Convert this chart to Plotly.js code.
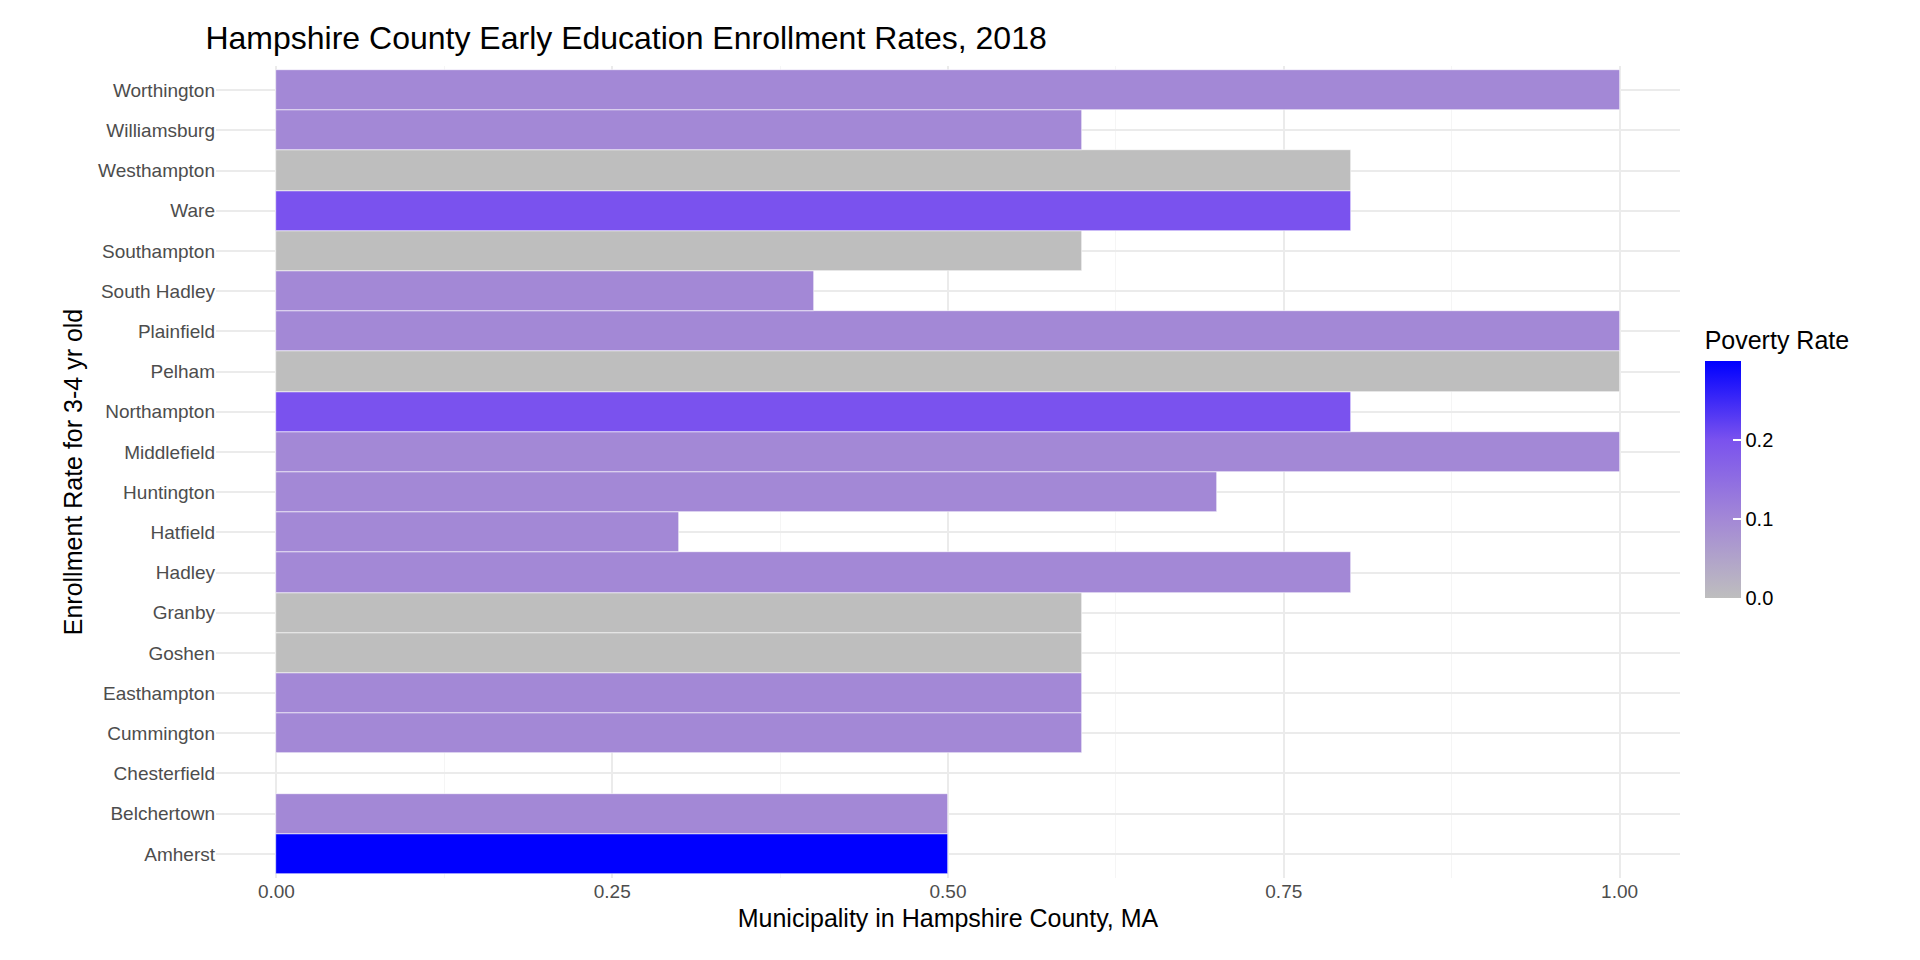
<!DOCTYPE html>
<html>
<head>
<meta charset="utf-8">
<script src="https://cdn.plot.ly/plotly-3.0.1.min.js"></script>
<style>body{margin:0;background:#fff}#graph{width:1920px;height:960px}</style>
</head>
<body>
<div id="graph"></div>
<script>
var towns = ["Amherst", "Belchertown", "Chesterfield", "Cummington", "Easthampton", "Goshen", "Granby",
    "Hadley", "Hatfield", "Huntington", "Middlefield", "Northampton", "Pelham", "Plainfield",
    "South Hadley", "Southampton", "Ware", "Westhampton", "Williamsburg", "Worthington"];
var enrollment = [0.5, 0.5, null, 0.6, 0.6, 0.6, 0.6, 0.8, 0.3, 0.7, 1.0, 0.8, 1.0, 1.0, 0.4, 0.6, 0.8, 0.8, 0.6, 1.0];
var poverty = [0.3, 0.1, null, 0.1, 0.1, 0, 0, 0.1, 0.1, 0.1, 0.1, 0.2, 0, 0.1, 0.1, 0, 0.2, 0, 0.1, 0.1];

var trace = {
    type: 'bar',
    orientation: 'h',
    y: towns,
    x: enrollment,
    marker: {
        color: poverty,
        cmin: 0,
        cmax: 0.3,
        colorscale: [[0, '#BEBEBE'], [0.333, '#A388D6'], [0.667, '#7A52EE'], [1, '#0000FF']],
        line: {color: 'white', width: 0.6},
        showscale: true,
        colorbar: {
            title: {text: 'Poverty Rate', side: 'top', font: {size: 25, color: '#000'}},
            tickvals: [0, 0.1, 0.2],
            ticktext: ['0.0', '0.1', '0.2'],
            tickfont: {size: 20, color: '#000'},
            ticks: 'inside', ticklen: 8, tickcolor: 'white', tickwidth: 1.5,
            thickness: 36, len: 290, lenmode: 'pixels',
            x: 1.01, xanchor: 'left', y: 0.333, yanchor: 'bottom',
            outlinewidth: 0
        }
    },
    hoverinfo: 'x+y'
};

var layout = {
    paper_bgcolor: 'white',
    plot_bgcolor: 'white',
    font: {family: 'Arial, sans-serif', color: '#4D4D4D'},
    bargap: 0,
    showlegend: false,
    margin: {l: 216, r: 240, t: 66, b: 82},
    title: {text: 'Hampshire County Early Education Enrollment Rates, 2018', x: 0.107, xanchor: 'left', y: 0.972,
        font: {size: 32, color: '#000'}},
    xaxis: {
        range: [-0.045, 1.045],
        tickvals: [0, 0.25, 0.5, 0.75, 1],
        ticktext: ['0.00', '0.25', '0.50', '0.75', '1.00'],
        tickfont: {size: 19, color: '#4D4D4D'},
        gridcolor: '#EBEBEB', gridwidth: 1.5,
        minor: {tickvals: [0.125, 0.375, 0.625, 0.875], gridcolor: '#F5F5F5', gridwidth: 1},
        zeroline: false,
        title: {text: 'Municipality in Hampshire County, MA', font: {size: 25, color: '#000'}, standoff: 8}
    },
    yaxis: {
        type: 'category',
        range: [-0.6, 19.6],
        tickfont: {size: 19, color: '#4D4D4D'},
        gridcolor: '#EBEBEB', gridwidth: 1.5,
        ticklen: 0,
        title: {text: 'Enrollment Rate for 3-4 yr old', font: {size: 25, color: '#000'}, standoff: 8}
    }
};

Plotly.newPlot('graph', [trace], layout, {displayModeBar: false});
</script>
</body>
</html>
